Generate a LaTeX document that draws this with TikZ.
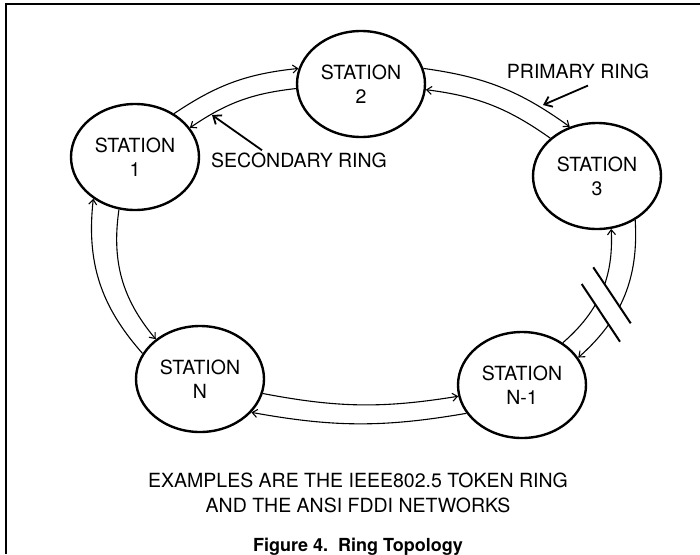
\documentclass[tikz,border=0pt]{standalone}
\usepackage{fontspec}
\setmainfont{TeX Gyre Heros}
\usetikzlibrary{shapes.geometric,arrows.meta}

\tikzset{
  station/.style={ellipse, draw=black, line width=2.4pt, minimum width=128pt,
    minimum height=106pt, inner sep=0pt, align=center,
    font=\fontsize{19.5}{24}\selectfont},
  ring/.style={draw=black, line width=1.1pt, -{Straight Barb[length=5pt,width=8pt]}},
  pointer/.style={draw=black, line width=1.8pt, -{Straight Barb[length=7pt,width=11pt]}},
  ringtext/.style={font=\fontsize{19.5}{24}\selectfont, inner sep=0pt, anchor=base},
  breakmark/.style={draw=black, line width=2pt},
}

\begin{document}
\begin{tikzpicture}[x=1pt,y=1pt]
  \useasboundingbox (0,0) rectangle (700,-554);
  \draw[line width=1.4pt] (6,-554) -- (6,-4) -- (700,-4);

  % stations
  \node[station] (s1)  at (135,-157) {STATION\\1};
  \node[station] (s2)  at (361,-84)  {STATION\\2};
  \node[station] (s3)  at (597,-176) {STATION\\3};
  \node[station] (sN1) at (522,-385) {STATION\\N-1};
  \node[station] (sN)  at (200,-379) {STATION\\N};

  % primary ring (outer, clockwise)
  \draw[ring] (s1.48)   to[bend left=14] (s2.166);
  \draw[ring] (s2.14)   to[bend left=14] (s3.119);
  \draw[ring] (s3.311)  to[bend left=26] (sN1.26);
  \draw[ring] (sN1.207) to[bend left=10] (sN.327);
  \draw[ring] (sN.156)  to[bend left=24] (s1.225);

  % secondary ring (inner, counter clockwise)
  \draw[ring] (s2.184)  to[bend right=14] (s1.28);
  \draw[ring] (s3.141)  to[bend right=14] (s2.-5);
  \draw[ring] (sN1.46)  to[bend right=26] (s3.285);
  \draw[ring] (sN.347)  to[bend right=10] (sN1.190);
  \draw[ring] (s1.253)  to[bend right=24] (sN.138);

  % break in the ring
  \fill[white] (593.3,-267.3) -- (630.7,-323.3) -- (620,-341.7) -- (581.7,-284) -- cycle;
  \draw[breakmark] (593.3,-267.3) -- (630.7,-323.3);
  \draw[breakmark] (581.7,-284) -- (620,-341.7);

  % ring labels
  \node[ringtext] (primary)   at (578,-78)  {PRIMARY RING};
  \node[ringtext] (secondary) at (299,-167) {SECONDARY RING};
  \coordinate (primtip) at (543,-105);
  \coordinate (sectip)  at (212,-115);
  \draw[pointer] ([xshift=10pt,yshift=-7pt]primary.south) -- (primtip);
  \draw[pointer] ([xshift=-37pt,yshift=2pt]secondary.north) -- (sectip);

  % notes
  \node[ringtext] (note1) at (358,-487) {EXAMPLES ARE THE IEEE802.5 TOKEN RING};
  \node[ringtext] (note2) at (358,-512) {AND THE ANSI FDDI NETWORKS};
  \node[ringtext, font=\fontsize{18}{22}\selectfont\bfseries] (caption) at (358,-551)
    {Figure 4.\ \ Ring Topology};
\end{tikzpicture}
\end{document}
